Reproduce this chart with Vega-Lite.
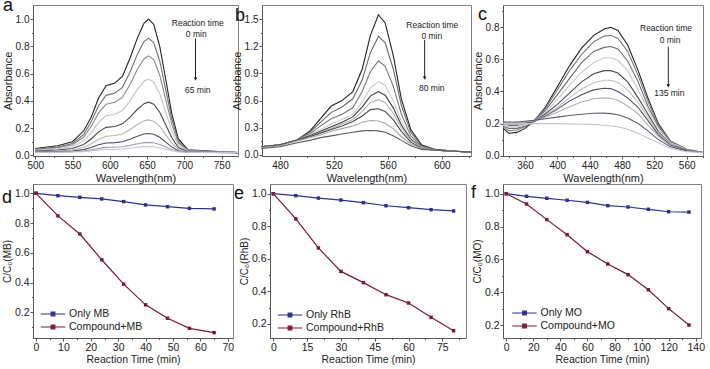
{
"$schema":"https://vega.github.io/schema/vega-lite/v6.json",
"autosize":{"type":"none"},
"padding":{"left":33,"top":5,"right":677,"bottom":364},
"background":"white",
"config":{
 "font":"Liberation Sans",
 "view":{"stroke":"#808080","strokeWidth":1},
 "axis":{"grid":false,"domainColor":"#555","tickColor":"#555","labelColor":"#222","titleColor":"#222","labelFontSize":10,"titleFontSize":11,"titleFontWeight":"normal","labelPadding":1,"titlePadding":2,"labelOverlap":false,"labelFlush":false},
 "title":{"fontSize":18,"fontWeight":"normal","anchor":"start","frame":"group","orient":"top","baseline":"alphabetic","offset":0,"color":"#111"},
 "legend":{"labelFontSize":10.5,"labelColor":"#222","padding":0}
},
"datasets":{
 "specA":[
  {"w":500,"t0":0.05,"t8":0.045,"t16":0.041,"t24":0.036,"t32":0.031,"t40":0.027,"t48":0.024,"t56":0.022,"t65":0.021},
  {"w":530,"t0":0.07,"t8":0.06,"t16":0.056,"t24":0.047,"t32":0.039,"t40":0.032,"t48":0.027,"t56":0.024,"t65":0.022},
  {"w":550,"t0":0.10,"t8":0.087,"t16":0.077,"t24":0.063,"t32":0.05,"t40":0.039,"t48":0.031,"t56":0.026,"t65":0.024},
  {"w":565,"t0":0.18,"t8":0.154,"t16":0.134,"t24":0.106,"t32":0.079,"t40":0.058,"t48":0.042,"t56":0.032,"t65":0.027},
  {"w":575,"t0":0.28,"t8":0.247,"t16":0.212,"t24":0.166,"t32":0.12,"t40":0.085,"t48":0.058,"t56":0.04,"t65":0.032},
  {"w":585,"t0":0.42,"t8":0.364,"t16":0.311,"t24":0.241,"t32":0.172,"t40":0.118,"t48":0.077,"t56":0.051,"t65":0.038},
  {"w":595,"t0":0.51,"t8":0.44,"t16":0.375,"t24":0.29,"t32":0.205,"t40":0.14,"t48":0.09,"t56":0.058,"t65":0.043},
  {"w":607,"t0":0.53,"t8":0.457,"t16":0.389,"t24":0.301,"t32":0.212,"t40":0.145,"t48":0.093,"t56":0.059,"t65":0.043},
  {"w":617,"t0":0.58,"t8":0.499,"t16":0.425,"t24":0.328,"t32":0.231,"t40":0.157,"t48":0.10,"t56":0.063,"t65":0.046},
  {"w":627,"t0":0.71,"t8":0.608,"t16":0.517,"t24":0.398,"t32":0.279,"t40":0.188,"t48":0.118,"t56":0.073,"t65":0.052},
  {"w":637,"t0":0.86,"t8":0.742,"t16":0.631,"t24":0.484,"t32":0.338,"t40":0.226,"t48":0.14,"t56":0.085,"t65":0.059},
  {"w":646,"t0":0.97,"t8":0.835,"t16":0.709,"t24":0.544,"t32":0.379,"t40":0.253,"t48":0.156,"t56":0.093,"t65":0.064},
  {"w":652,"t0":1.0,"t8":0.86,"t16":0.73,"t24":0.56,"t32":0.39,"t40":0.26,"t48":0.16,"t56":0.095,"t65":0.065},
  {"w":659,"t0":0.96,"t8":0.826,"t16":0.702,"t24":0.538,"t32":0.375,"t40":0.25,"t48":0.154,"t56":0.092,"t65":0.063},
  {"w":667,"t0":0.80,"t8":0.692,"t16":0.588,"t24":0.452,"t32":0.316,"t40":0.212,"t48":0.132,"t56":0.08,"t65":0.056},
  {"w":675,"t0":0.56,"t8":0.482,"t16":0.41,"t24":0.317,"t32":0.224,"t40":0.152,"t48":0.097,"t56":0.061,"t65":0.045},
  {"w":683,"t0":0.31,"t8":0.272,"t16":0.233,"t24":0.182,"t32":0.131,"t40":0.092,"t48":0.062,"t56":0.043,"t65":0.034},
  {"w":692,"t0":0.12,"t8":0.104,"t16":0.091,"t24":0.074,"t32":0.057,"t40":0.044,"t48":0.034,"t56":0.028,"t65":0.025},
  {"w":705,"t0":0.04,"t8":0.037,"t16":0.034,"t24":0.031,"t32":0.027,"t40":0.025,"t48":0.023,"t56":0.022,"t65":0.021},
  {"w":740,"t0":0.03,"t8":0.028,"t16":0.027,"t24":0.025,"t32":0.024,"t40":0.022,"t48":0.021,"t56":0.021,"t65":0.02},
  {"w":772,"t0":0.02,"t8":0.02,"t16":0.02,"t24":0.02,"t32":0.02,"t40":0.02,"t48":0.02,"t56":0.02,"t65":0.02}
 ],
 "specB":[
  {"w":466,"t0":0.09,"t10":0.09,"t20":0.09,"t30":0.09,"t40":0.09,"t50":0.09,"t60":0.09,"t70":0.08,"t80":0.07},
  {"w":480,"t0":0.11,"t10":0.11,"t20":0.11,"t30":0.11,"t40":0.11,"t50":0.11,"t60":0.11,"t70":0.10,"t80":0.09},
  {"w":492,"t0":0.16,"t10":0.16,"t20":0.16,"t30":0.16,"t40":0.16,"t50":0.16,"t60":0.16,"t70":0.15,"t80":0.13},
  {"w":502,"t0":0.26,"t10":0.25,"t20":0.23,"t30":0.22,"t40":0.21,"t50":0.20,"t60":0.20,"t70":0.19,"t80":0.16},
  {"w":510,"t0":0.40,"t10":0.36,"t20":0.32,"t30":0.28,"t40":0.26,"t50":0.25,"t60":0.24,"t70":0.22,"t80":0.19},
  {"w":518,"t0":0.54,"t10":0.47,"t20":0.40,"t30":0.34,"t40":0.31,"t50":0.29,"t60":0.28,"t70":0.26,"t80":0.21},
  {"w":526,"t0":0.60,"t10":0.53,"t20":0.45,"t30":0.39,"t40":0.36,"t50":0.34,"t60":0.32,"t70":0.29,"t80":0.23},
  {"w":534,"t0":0.70,"t10":0.62,"t20":0.52,"t30":0.45,"t40":0.42,"t50":0.39,"t60":0.37,"t70":0.32,"t80":0.25},
  {"w":541,"t0":0.95,"t10":0.83,"t20":0.70,"t30":0.58,"t40":0.53,"t50":0.48,"t60":0.43,"t70":0.36,"t80":0.265},
  {"w":547,"t0":1.32,"t10":1.13,"t20":0.92,"t30":0.74,"t40":0.65,"t50":0.58,"t60":0.50,"t70":0.38,"t80":0.27},
  {"w":553,"t0":1.55,"t10":1.31,"t20":1.04,"t30":0.81,"t40":0.70,"t50":0.61,"t60":0.51,"t70":0.375,"t80":0.265},
  {"w":558,"t0":1.46,"t10":1.24,"t20":0.98,"t30":0.77,"t40":0.66,"t50":0.58,"t60":0.48,"t70":0.35,"t80":0.25},
  {"w":564,"t0":1.10,"t10":0.95,"t20":0.76,"t30":0.60,"t40":0.52,"t50":0.46,"t60":0.39,"t70":0.29,"t80":0.21},
  {"w":570,"t0":0.62,"t10":0.55,"t20":0.45,"t30":0.37,"t40":0.33,"t50":0.30,"t60":0.26,"t70":0.20,"t80":0.16},
  {"w":577,"t0":0.28,"t10":0.25,"t20":0.21,"t30":0.18,"t40":0.17,"t50":0.16,"t60":0.14,"t70":0.12,"t80":0.10},
  {"w":585,"t0":0.11,"t10":0.10,"t20":0.09,"t30":0.08,"t40":0.08,"t50":0.08,"t60":0.07,"t70":0.07,"t80":0.06},
  {"w":595,"t0":0.06,"t10":0.06,"t20":0.05,"t30":0.05,"t40":0.05,"t50":0.05,"t60":0.05,"t70":0.05,"t80":0.05},
  {"w":610,"t0":0.04,"t10":0.04,"t20":0.04,"t30":0.04,"t40":0.04,"t50":0.04,"t60":0.04,"t70":0.04,"t80":0.04},
  {"w":622,"t0":0.03,"t10":0.03,"t20":0.03,"t30":0.03,"t40":0.03,"t50":0.03,"t60":0.03,"t70":0.03,"t80":0.03}
 ],
 "specC":[
  {"w":333,"t0":0.17,"t15":0.18,"t30":0.19,"t45":0.19,"t60":0.20,"t75":0.20,"t90":0.205,"t105":0.21,"t120":0.21,"t135":0.20},
  {"w":340,"t0":0.14,"t15":0.155,"t30":0.17,"t45":0.18,"t60":0.19,"t75":0.195,"t90":0.20,"t105":0.205,"t120":0.21,"t135":0.20},
  {"w":350,"t0":0.145,"t15":0.16,"t30":0.17,"t45":0.18,"t60":0.19,"t75":0.195,"t90":0.20,"t105":0.205,"t120":0.21,"t135":0.20},
  {"w":360,"t0":0.17,"t15":0.18,"t30":0.185,"t45":0.19,"t60":0.20,"t75":0.20,"t90":0.205,"t105":0.21,"t120":0.215,"t135":0.20},
  {"w":370,"t0":0.21,"t15":0.21,"t30":0.21,"t45":0.21,"t60":0.21,"t75":0.21,"t90":0.21,"t105":0.215,"t120":0.22,"t135":0.20},
  {"w":385,"t0":0.30,"t15":0.29,"t30":0.28,"t45":0.27,"t60":0.26,"t75":0.25,"t90":0.245,"t105":0.24,"t120":0.23,"t135":0.20},
  {"w":400,"t0":0.43,"t15":0.41,"t30":0.38,"t45":0.35,"t60":0.32,"t75":0.30,"t90":0.29,"t105":0.27,"t120":0.24,"t135":0.20},
  {"w":415,"t0":0.56,"t15":0.53,"t30":0.48,"t45":0.44,"t60":0.39,"t75":0.36,"t90":0.34,"t105":0.305,"t120":0.25,"t135":0.198},
  {"w":430,"t0":0.67,"t15":0.63,"t30":0.58,"t45":0.52,"t60":0.46,"t75":0.415,"t90":0.38,"t105":0.335,"t120":0.258,"t135":0.196},
  {"w":445,"t0":0.75,"t15":0.71,"t30":0.65,"t45":0.58,"t60":0.51,"t75":0.455,"t90":0.41,"t105":0.355,"t120":0.264,"t135":0.195},
  {"w":458,"t0":0.79,"t15":0.745,"t30":0.675,"t45":0.61,"t60":0.53,"t75":0.47,"t90":0.42,"t105":0.36,"t120":0.265,"t135":0.19},
  {"w":466,"t0":0.80,"t15":0.75,"t30":0.68,"t45":0.61,"t60":0.53,"t75":0.47,"t90":0.418,"t105":0.358,"t120":0.262,"t135":0.185},
  {"w":475,"t0":0.78,"t15":0.73,"t30":0.665,"t45":0.595,"t60":0.515,"t75":0.455,"t90":0.40,"t105":0.345,"t120":0.255,"t135":0.18},
  {"w":487,"t0":0.69,"t15":0.65,"t30":0.59,"t45":0.53,"t60":0.46,"t75":0.41,"t90":0.36,"t105":0.31,"t120":0.235,"t135":0.165},
  {"w":500,"t0":0.53,"t15":0.50,"t30":0.46,"t45":0.41,"t60":0.36,"t75":0.33,"t90":0.30,"t105":0.26,"t120":0.20,"t135":0.14},
  {"w":512,"t0":0.36,"t15":0.34,"t30":0.31,"t45":0.29,"t60":0.26,"t75":0.24,"t90":0.22,"t105":0.19,"t120":0.155,"t135":0.11},
  {"w":525,"t0":0.20,"t15":0.19,"t30":0.18,"t45":0.17,"t60":0.15,"t75":0.14,"t90":0.13,"t105":0.12,"t120":0.10,"t135":0.08},
  {"w":540,"t0":0.09,"t15":0.09,"t30":0.08,"t45":0.08,"t60":0.07,"t75":0.07,"t90":0.065,"t105":0.06,"t120":0.055,"t135":0.045},
  {"w":560,"t0":0.04,"t15":0.04,"t30":0.04,"t45":0.04,"t60":0.035,"t75":0.035,"t90":0.035,"t105":0.03,"t120":0.03,"t135":0.025},
  {"w":580,"t0":0.02,"t15":0.02,"t30":0.02,"t45":0.02,"t60":0.02,"t75":0.02,"t90":0.02,"t105":0.02,"t120":0.02,"t135":0.02}
 ],
 "kinD":[
  {"t":0,"Only MB":1.0,"Compound+MB":1.0},
  {"t":8,"Only MB":0.984,"Compound+MB":0.848},
  {"t":16,"Only MB":0.973,"Compound+MB":0.726},
  {"t":24,"Only MB":0.962,"Compound+MB":0.553},
  {"t":32,"Only MB":0.944,"Compound+MB":0.389},
  {"t":40,"Only MB":0.922,"Compound+MB":0.25},
  {"t":48,"Only MB":0.91,"Compound+MB":0.16},
  {"t":56,"Only MB":0.899,"Compound+MB":0.092},
  {"t":65,"Only MB":0.895,"Compound+MB":0.063}
 ],
 "kinE":[
  {"t":0,"Only RhB":1.0,"Compound+RhB":1.0},
  {"t":10,"Only RhB":0.988,"Compound+RhB":0.845},
  {"t":20,"Only RhB":0.973,"Compound+RhB":0.667},
  {"t":30,"Only RhB":0.961,"Compound+RhB":0.523},
  {"t":40,"Only RhB":0.945,"Compound+RhB":0.454},
  {"t":50,"Only RhB":0.926,"Compound+RhB":0.38},
  {"t":60,"Only RhB":0.914,"Compound+RhB":0.329},
  {"t":70,"Only RhB":0.902,"Compound+RhB":0.241},
  {"t":80,"Only RhB":0.894,"Compound+RhB":0.159}
 ],
 "kinF":[
  {"t":0,"Only MO":1.0,"Compound+MO":1.0},
  {"t":15,"Only MO":0.984,"Compound+MO":0.937},
  {"t":30,"Only MO":0.972,"Compound+MO":0.842},
  {"t":45,"Only MO":0.96,"Compound+MO":0.75},
  {"t":60,"Only MO":0.947,"Compound+MO":0.647},
  {"t":75,"Only MO":0.927,"Compound+MO":0.572},
  {"t":90,"Only MO":0.919,"Compound+MO":0.507},
  {"t":105,"Only MO":0.905,"Compound+MO":0.415},
  {"t":120,"Only MO":0.89,"Compound+MO":0.30},
  {"t":135,"Only MO":0.888,"Compound+MO":0.20}
 ]
},
"bounds":"full",
"spacing":-1,
"resolve":{"scale":{"color":"independent","x":"independent","y":"independent"},"legend":{"color":"independent"}},
"vconcat":[
 {"bounds":"flush","spacing":24,"resolve":{"scale":{"color":"independent","x":"independent","y":"independent"},"legend":{"color":"independent"}},"hconcat":[
  {"width":205,"height":151,"title":{"text":"a","dx":-30,"dy":14},
   "resolve":{"axis":{"x":"independent","y":"independent"}},
   "layer":[
    {"data":{"name":"specA"},"transform":[{"fold":["t0","t8","t16","t24","t32","t40","t48","t56","t65"],"as":["time","A"]}],
     "mark":{"type":"line","strokeWidth":1.1},
     "encoding":{
      "x":{"field":"w","type":"quantitative","scale":{"domain":[497,772],"nice":false,"zero":false},
        "axis":{"title":"Wavelength(nm)","orient":"bottom","labelOverlap":false,"values":[500,525,550,575,600,625,650,675,700,725,750],"labelExpr":"datum.value % 50 === 0 ? datum.label : ''","tickSize":{"condition":{"test":"datum.value % 50 === 0","value":3},"value":1.5}}},
      "y":{"field":"A","type":"quantitative","scale":{"domain":[-0.005,1.103],"nice":false,"zero":false},
        "axis":{"title":"Absorbance","orient":"left","labelOverlap":false,"format":".1f","values":[0,0.1,0.2,0.3,0.4,0.5,0.6,0.7,0.8,0.9,1.0],"labelExpr":"round(datum.value*10) % 2 === 0 ? datum.label : ''","tickSize":{"condition":{"test":"round(datum.value*10) % 2 === 0","value":3},"value":1.5}}},
      "color":{"field":"time","type":"nominal","scale":{"domain":["t0","t8","t16","t24","t32","t40","t48","t56","t65"],"range":["#222222","#707070","#8a8a8a","#c4c4c4","#4a4a4a","#b4b4b4","#4e4e66","#a49cb8","#c8c0d4"]},"legend":null}
     }},
    {"data":{"values":[{}]},"mark":{"type":"text","text":"Reaction time","fontSize":8.5,"color":"#222"},"encoding":{"x":{"datum":718,"type":"quantitative","axis":null},"y":{"datum":0.973,"type":"quantitative","axis":null}}},
    {"data":{"values":[{}]},"mark":{"type":"text","text":"0 min","fontSize":8.5,"color":"#222"},"encoding":{"x":{"datum":716,"type":"quantitative","axis":null},"y":{"datum":0.887,"type":"quantitative","axis":null}}},
    {"data":{"values":[{}]},"mark":{"type":"text","text":"65 min","fontSize":8.5,"color":"#222"},"encoding":{"x":{"datum":718,"type":"quantitative","axis":null},"y":{"datum":0.478,"type":"quantitative","axis":null}}},
    {"data":{"values":[{}]},"mark":{"type":"rule","color":"#222","strokeWidth":1},"encoding":{"x":{"datum":715,"type":"quantitative","axis":null},"y":{"datum":0.858,"type":"quantitative","axis":null},"y2":{"datum":0.56}}},
    {"data":{"values":[{}]},"mark":{"type":"point","shape":"triangle-down","filled":true,"size":14,"color":"#222","opacity":1},"encoding":{"x":{"datum":715,"type":"quantitative","axis":null},"y":{"datum":0.56,"type":"quantitative","axis":null}}}
   ]},
  {"bounds":"flush","spacing":32,"resolve":{"scale":{"color":"independent","x":"independent","y":"independent"},"legend":{"color":"independent"}},"hconcat":[
   {"width":209,"height":151,"title":{"text":"b","dx":-27,"dy":24},
    "resolve":{"axis":{"x":"independent","y":"independent"}},
    "layer":[
     {"data":{"name":"specB"},"transform":[{"fold":["t0","t10","t20","t30","t40","t50","t60","t70","t80"],"as":["time","A"]}],
      "mark":{"type":"line","strokeWidth":1.1},
      "encoding":{
       "x":{"field":"w","type":"quantitative","scale":{"domain":[466.6,621.7],"nice":false,"zero":false},
         "axis":{"title":"Wavelength(nm)","orient":"bottom","labelOverlap":false,"values":[480,500,520,540,560,580,600,620],"labelExpr":"datum.value % 40 === 0 ? datum.label : ''","tickSize":{"condition":{"test":"datum.value % 40 === 0","value":3},"value":1.5}}},
       "y":{"field":"A","type":"quantitative","scale":{"domain":[-0.013,1.658],"nice":false,"zero":false},
         "axis":{"title":"Absorbance","orient":"left","labelOverlap":false,"format":".1f","values":[0,0.15,0.3,0.45,0.6,0.75,0.9,1.05,1.2,1.35,1.5],"labelExpr":"round(datum.value*100) % 30 === 0 ? datum.label : ''","tickSize":{"condition":{"test":"round(datum.value*100) % 30 === 0","value":3},"value":1.5}}},
       "color":{"field":"time","type":"nominal","scale":{"domain":["t0","t10","t20","t30","t40","t50","t60","t70","t80"],"range":["#222222","#686868","#777777","#cccccc","#3c3c3c","#b4b4b4","#4a4a4a","#a8a8a8","#5a5a66"]},"legend":null}
      }},
     {"data":{"values":[{}]},"mark":{"type":"text","text":"Reaction time","fontSize":8.5,"color":"#222"},"encoding":{"x":{"datum":593,"type":"quantitative","axis":null},"y":{"datum":1.437,"type":"quantitative","axis":null}}},
     {"data":{"values":[{}]},"mark":{"type":"text","text":"0 min","fontSize":8.5,"color":"#222"},"encoding":{"x":{"datum":592.6,"type":"quantitative","axis":null},"y":{"datum":1.32,"type":"quantitative","axis":null}}},
     {"data":{"values":[{}]},"mark":{"type":"text","text":"80 min","fontSize":8.5,"color":"#222"},"encoding":{"x":{"datum":592.6,"type":"quantitative","axis":null},"y":{"datum":0.74,"type":"quantitative","axis":null}}},
     {"data":{"values":[{}]},"mark":{"type":"rule","color":"#222","strokeWidth":1},"encoding":{"x":{"datum":587.3,"type":"quantitative","axis":null},"y":{"datum":1.27,"type":"quantitative","axis":null},"y2":{"datum":0.85}}},
     {"data":{"values":[{}]},"mark":{"type":"point","shape":"triangle-down","filled":true,"size":14,"color":"#222","opacity":1},"encoding":{"x":{"datum":587.3,"type":"quantitative","axis":null},"y":{"datum":0.85,"type":"quantitative","axis":null}}}
    ]},
   {"width":200,"height":151,"title":{"text":"c","dx":-25,"dy":23},
    "resolve":{"axis":{"x":"independent","y":"independent"}},
    "layer":[
     {"data":{"name":"specC"},"transform":[{"fold":["t0","t15","t30","t45","t60","t75","t90","t105","t120","t135"],"as":["time","A"]}],
      "mark":{"type":"line","strokeWidth":1.1},
      "encoding":{
       "x":{"field":"w","type":"quantitative","scale":{"domain":[332.8,580.2],"nice":false,"zero":false},
         "axis":{"title":"Wavelength(nm)","orient":"bottom","labelOverlap":false,"values":[340,360,380,400,420,440,460,480,500,520,540,560,580],"labelExpr":"datum.value % 40 === 0 ? datum.label : ''","tickSize":{"condition":{"test":"datum.value % 40 === 0","value":3},"value":1.5}}},
       "y":{"field":"A","type":"quantitative","scale":{"domain":[-0.002,0.939],"nice":false,"zero":false},
         "axis":{"title":"Absorbance","orient":"left","labelOverlap":false,"format":".1f","values":[0,0.1,0.2,0.3,0.4,0.5,0.6,0.7,0.8,0.9],"labelExpr":"round(datum.value*10) % 2 === 0 ? datum.label : ''","tickSize":{"condition":{"test":"round(datum.value*10) % 2 === 0","value":3},"value":1.5}}},
       "color":{"field":"time","type":"nominal","scale":{"domain":["t0","t15","t30","t45","t60","t75","t90","t105","t120","t135"],"range":["#222222","#7c7c7c","#6c6c6c","#c8c8c8","#4a4a56","#c0c0c0","#4e4e66","#b0b0b0","#5e5e70","#c8c0d0"]},"legend":null}
      }},
     {"data":{"values":[{}]},"mark":{"type":"text","text":"Reaction time","fontSize":8.5,"color":"#222"},"encoding":{"x":{"datum":534.4,"type":"quantitative","axis":null},"y":{"datum":0.794,"type":"quantitative","axis":null}}},
     {"data":{"values":[{}]},"mark":{"type":"text","text":"0 min","fontSize":8.5,"color":"#222"},"encoding":{"x":{"datum":539.4,"type":"quantitative","axis":null},"y":{"datum":0.721,"type":"quantitative","axis":null}}},
     {"data":{"values":[{}]},"mark":{"type":"text","text":"135 min","fontSize":8.5,"color":"#222"},"encoding":{"x":{"datum":538.6,"type":"quantitative","axis":null},"y":{"datum":0.389,"type":"quantitative","axis":null}}},
     {"data":{"values":[{}]},"mark":{"type":"rule","color":"#222","strokeWidth":1},"encoding":{"x":{"datum":537.3,"type":"quantitative","axis":null},"y":{"datum":0.68,"type":"quantitative","axis":null},"y2":{"datum":0.435}}},
     {"data":{"values":[{}]},"mark":{"type":"point","shape":"triangle-down","filled":true,"size":14,"color":"#222","opacity":1},"encoding":{"x":{"datum":537.3,"type":"quantitative","axis":null},"y":{"datum":0.435,"type":"quantitative","axis":null}}}
    ]}
  ]}
 ]},
 {"bounds":"flush","spacing":37,"resolve":{"scale":{"color":"independent","x":"independent","y":"independent"},"legend":{"color":"independent"}},"hconcat":[
  {"width":200,"height":154,"title":{"text":"d","dx":-31,"dy":27},
   "data":{"name":"kinD"},"transform":[{"fold":["Only MB","Compound+MB"],"as":["series","C"]}],
   "mark":{"type":"line","strokeWidth":1.2,"point":{"shape":"square","size":12,"filled":true}},
   "encoding":{
    "x":{"field":"t","type":"quantitative","scale":{"domain":[-1.1,71.9],"nice":false,"zero":false},
      "axis":{"title":"Reaction Time (min)","labelOverlap":false,"titleFontSize":10.5,"labelFontSize":10.5,"values":[0,5,10,15,20,25,30,35,40,45,50,55,60,65,70],"labelExpr":"datum.value % 10 === 0 ? datum.label : ''","tickSize":{"condition":{"test":"datum.value % 10 === 0","value":3},"value":1.5}}},
    "y":{"field":"C","type":"quantitative","scale":{"domain":[0.027,1.0625],"nice":false,"zero":false},
      "axis":{"title":"C/C₀(MB)","labelOverlap":false,"titleFontSize":10,"labelFontSize":10.5,"format":".1f","values":[0.1,0.2,0.3,0.4,0.5,0.6,0.7,0.8,0.9,1.0],"labelExpr":"round(datum.value*10) % 2 === 0 ? datum.label : ''","tickSize":{"condition":{"test":"round(datum.value*10) % 2 === 0","value":3},"value":1.5}}},
    "color":{"field":"series","type":"nominal","scale":{"domain":["Only MB","Compound+MB"],"range":["#30308a","#7a1a3a"]},
      "legend":{"title":null,"orient":"none","legendX":13,"legendY":123,"symbolType":"M-2,0H2M-0.3,-0.3H0.3V0.3H-0.3Z","symbolSize":150,"symbolStrokeWidth":1.2,"rowPadding":0,"labelOffset":9}}
   }},
  {"width":196,"height":154,"title":{"text":"e","dx":-36,"dy":23},
   "data":{"name":"kinE"},"transform":[{"fold":["Only RhB","Compound+RhB"],"as":["series","C"]}],
   "mark":{"type":"line","strokeWidth":1.2,"point":{"shape":"square","size":12,"filled":true}},
   "encoding":{
    "x":{"field":"t","type":"quantitative","scale":{"domain":[-1.47,85.5],"nice":false,"zero":false},
      "axis":{"title":"Reaction Time (min)","labelOverlap":false,"titleFontSize":10.5,"labelFontSize":10.5,"values":[0,7.5,15,22.5,30,37.5,45,52.5,60,67.5,75,82.5],"labelExpr":"datum.value % 15 === 0 ? datum.label : ''","tickSize":{"condition":{"test":"datum.value % 15 === 0","value":3},"value":1.5}}},
    "y":{"field":"C","type":"quantitative","scale":{"domain":[0.114,1.0596],"nice":false,"zero":false},
      "axis":{"title":"C/C₀(RhB)","labelOverlap":false,"titleFontSize":10,"labelFontSize":10.5,"format":".1f","values":[0.2,0.3,0.4,0.5,0.6,0.7,0.8,0.9,1.0],"labelExpr":"round(datum.value*10) % 2 === 0 ? datum.label : ''","tickSize":{"condition":{"test":"round(datum.value*10) % 2 === 0","value":3},"value":1.5}}},
    "color":{"field":"series","type":"nominal","scale":{"domain":["Only RhB","Compound+RhB"],"range":["#30308a","#7a1a3a"]},
      "legend":{"title":null,"orient":"none","legendX":13,"legendY":124,"symbolType":"M-2,0H2M-0.3,-0.3H0.3V0.3H-0.3Z","symbolSize":150,"symbolStrokeWidth":1.2,"rowPadding":0,"labelOffset":9}}
   }},
  {"width":198,"height":154,"title":{"text":"f","dx":-32,"dy":22},
   "data":{"name":"kinF"},"transform":[{"fold":["Only MO","Compound+MO"],"as":["series","C"]}],
   "mark":{"type":"line","strokeWidth":1.2,"point":{"shape":"square","size":12,"filled":true}},
   "encoding":{
    "x":{"field":"t","type":"quantitative","scale":{"domain":[-2.4,143.9],"nice":false,"zero":false},
      "axis":{"title":"Reaction Time (min)","labelOverlap":false,"titleFontSize":10.5,"labelFontSize":10.5,"values":[0,10,20,30,40,50,60,70,80,90,100,110,120,130,140],"labelExpr":"datum.value % 20 === 0 ? datum.label : ''","tickSize":{"condition":{"test":"datum.value % 20 === 0","value":3},"value":1.5}}},
    "y":{"field":"C","type":"quantitative","scale":{"domain":[0.121,1.059],"nice":false,"zero":false},
      "axis":{"title":"C/C₀(MO)","labelOverlap":false,"titleFontSize":10,"labelFontSize":10.5,"format":".1f","values":[0.2,0.3,0.4,0.5,0.6,0.7,0.8,0.9,1.0],"labelExpr":"round(datum.value*10) % 2 === 0 ? datum.label : ''","tickSize":{"condition":{"test":"round(datum.value*10) % 2 === 0","value":3},"value":1.5}}},
    "color":{"field":"series","type":"nominal","scale":{"domain":["Only MO","Compound+MO"],"range":["#30308a","#7a1a3a"]},
      "legend":{"title":null,"orient":"none","legendX":14.5,"legendY":122,"symbolType":"M-2,0H2M-0.3,-0.3H0.3V0.3H-0.3Z","symbolSize":150,"symbolStrokeWidth":1.2,"rowPadding":0,"labelOffset":9}}
   }}
 ]}
]
}
